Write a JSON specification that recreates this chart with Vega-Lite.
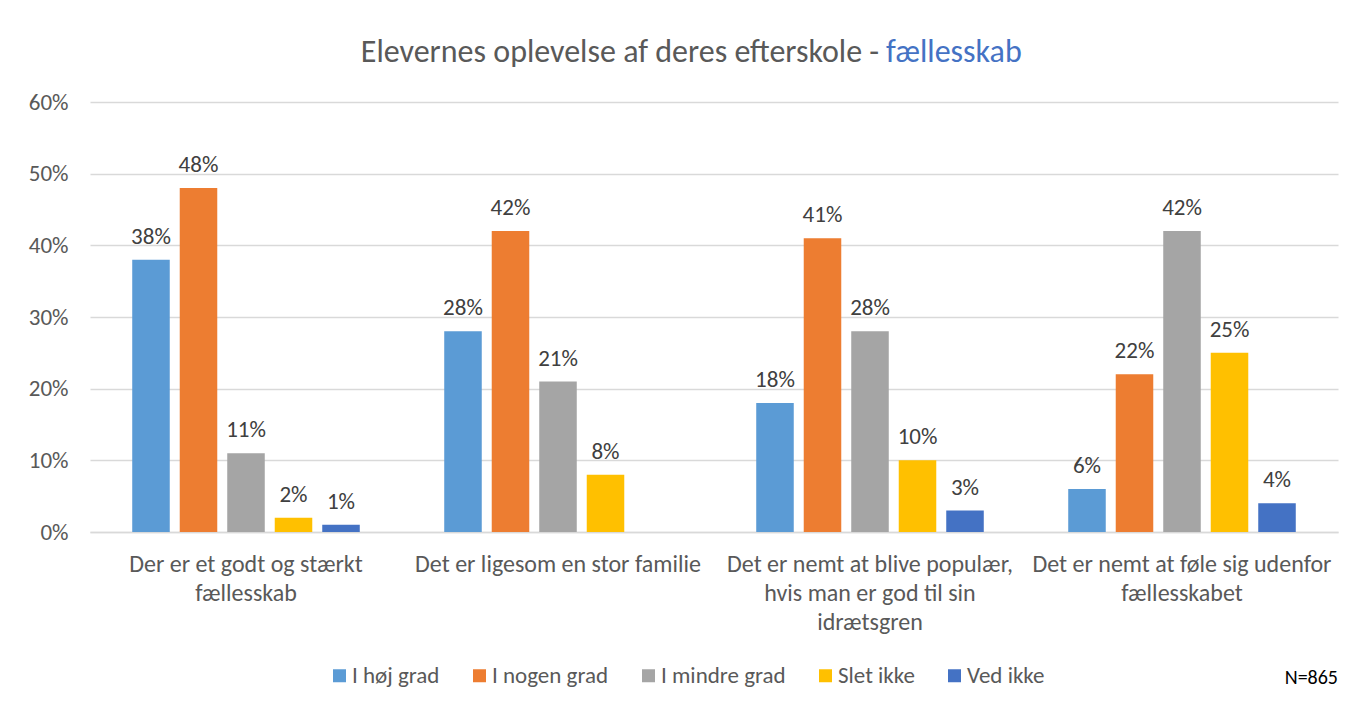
{
  "$schema": "https://vega.github.io/schema/vega-lite/v6.json",
  "width": 1248,
  "height": 430,
  "autosize": {"type": "none"},
  "padding": {"left": 90, "top": 102, "right": 18, "bottom": 174},
  "background": "white",
  "title": {"text": "N=865", "orient": "bottom", "anchor": "end", "offset": -20, "fontSize": 20, "font": "Carlito, Liberation Sans Narrow, sans-serif", "fontWeight": "normal", "color": "#000000"},
  "data": {"values": [
    {"cat": "Der er et godt og stærkt fællesskab", "series": "I høj grad", "value": 0.38},
    {"cat": "Der er et godt og stærkt fællesskab", "series": "I nogen grad", "value": 0.48},
    {"cat": "Der er et godt og stærkt fællesskab", "series": "I mindre grad", "value": 0.11},
    {"cat": "Der er et godt og stærkt fællesskab", "series": "Slet ikke", "value": 0.02},
    {"cat": "Der er et godt og stærkt fællesskab", "series": "Ved ikke", "value": 0.01},
    {"cat": "Det er ligesom en stor familie", "series": "I høj grad", "value": 0.28},
    {"cat": "Det er ligesom en stor familie", "series": "I nogen grad", "value": 0.42},
    {"cat": "Det er ligesom en stor familie", "series": "I mindre grad", "value": 0.21},
    {"cat": "Det er ligesom en stor familie", "series": "Slet ikke", "value": 0.08},
    {"cat": "Det er nemt at blive populær, hvis man er god til sin idrætsgren", "series": "I høj grad", "value": 0.18},
    {"cat": "Det er nemt at blive populær, hvis man er god til sin idrætsgren", "series": "I nogen grad", "value": 0.41},
    {"cat": "Det er nemt at blive populær, hvis man er god til sin idrætsgren", "series": "I mindre grad", "value": 0.28},
    {"cat": "Det er nemt at blive populær, hvis man er god til sin idrætsgren", "series": "Slet ikke", "value": 0.10},
    {"cat": "Det er nemt at blive populær, hvis man er god til sin idrætsgren", "series": "Ved ikke", "value": 0.03},
    {"cat": "Det er nemt at føle sig udenfor fællesskabet", "series": "I høj grad", "value": 0.06},
    {"cat": "Det er nemt at føle sig udenfor fællesskabet", "series": "I nogen grad", "value": 0.22},
    {"cat": "Det er nemt at føle sig udenfor fællesskabet", "series": "I mindre grad", "value": 0.42},
    {"cat": "Det er nemt at føle sig udenfor fællesskabet", "series": "Slet ikke", "value": 0.25},
    {"cat": "Det er nemt at føle sig udenfor fællesskabet", "series": "Ved ikke", "value": 0.04}
  ]},
  "encoding": {
    "x": {
      "field": "cat", "type": "nominal", "sort": null, "title": null,
      "scale": {"paddingInner": 0, "paddingOuter": 0},
      "axis": {
        "labelAngle": 0, "labelPadding": 20, "labelLineHeight": 29, "labelLimit": 400, "labelFontSize": 24,
        "domain": true, "domainColor": "#D9D9D9", "domainWidth": 1.5, "grid": false, "ticks": false,
        "labelBaseline": "top",
        "labelExpr": "datum.value == 'Der er et godt og stærkt fællesskab' ? ['Der er et godt og stærkt', 'fællesskab'] : datum.value == 'Det er nemt at blive populær, hvis man er god til sin idrætsgren' ? ['Det er nemt at blive populær,', 'hvis man er god til sin', 'idrætsgren'] : datum.value == 'Det er nemt at føle sig udenfor fællesskabet' ? ['Det er nemt at føle sig udenfor', 'fællesskabet'] : datum.value"
      }
    },
    "y": {
      "field": "value", "type": "quantitative", "title": null,
      "scale": {"domain": [0, 0.6], "nice": false},
      "axis": {"values": [0, 0.1, 0.2, 0.3, 0.4, 0.5, 0.6], "format": ".0%", "grid": true, "domain": false, "ticks": false, "labelPadding": 22, "labelFontSize": 23, "gridColor": "#D9D9D9", "gridWidth": 1.5}
    }
  },
  "layer": [
    {
      "mark": {"type": "bar"},
      "encoding": {
        "xOffset": {
          "field": "series", "type": "nominal",
          "scale": {"domain": ["I høj grad", "I nogen grad", "I mindre grad", "Slet ikke", "Ved ikke"], "paddingInner": 0.21, "paddingOuter": 0.889}
        },
        "color": {
          "field": "series", "type": "nominal",
          "scale": {"domain": ["I høj grad", "I nogen grad", "I mindre grad", "Slet ikke", "Ved ikke"], "range": ["#5B9BD5", "#ED7D31", "#A5A5A5", "#FFC000", "#4472C4"]},
          "legend": {"orient": "none", "legendX": 238, "legendY": 562, "direction": "horizontal", "title": null, "symbolType": "square", "symbolSize": 169, "symbolStrokeWidth": 0, "labelFontSize": 23, "labelColor": "#595959", "columnPadding": 28, "labelOffset": 1}
        }
      }
    },
    {
      "mark": {"type": "text", "baseline": "alphabetic", "dy": -16, "fontSize": 23, "color": "#404040"},
      "encoding": {
        "xOffset": {"field": "series", "type": "nominal"},
        "text": {"field": "value", "format": ".0%"}
      }
    },
    {
      "transform": [{"filter": "datum.cat == 'Det er nemt at blive populær, hvis man er god til sin idrætsgren' && datum.series == 'I høj grad'"}],
      "mark": {"type": "text", "align": "right", "baseline": "alphabetic", "dx": -4, "fontSize": 32, "color": "#595959"},
      "encoding": {
        "x": {"field": "cat", "type": "nominal", "bandPosition": 0.542},
        "y": {"datum": 0.6558, "type": "quantitative"},
        "text": {"value": "Elevernes oplevelse af deres efterskole -"}
      }
    },
    {
      "transform": [{"filter": "datum.cat == 'Det er nemt at blive populær, hvis man er god til sin idrætsgren' && datum.series == 'I høj grad'"}],
      "mark": {"type": "text", "align": "left", "baseline": "alphabetic", "dx": 3, "fontSize": 32, "color": "#4472C4"},
      "encoding": {
        "x": {"field": "cat", "type": "nominal", "bandPosition": 0.542},
        "y": {"datum": 0.6558, "type": "quantitative"},
        "text": {"value": "fællesskab"}
      }
    }
  ],
  "config": {
    "font": "Carlito, Liberation Sans Narrow, sans-serif",
    "view": {"stroke": null},
    "axis": {"labelFont": "Carlito, Liberation Sans Narrow, sans-serif", "labelFontSize": 22, "labelColor": "#595959"},
    "legend": {"labelFont": "Carlito, Liberation Sans Narrow, sans-serif"},
    "text": {"font": "Carlito, Liberation Sans Narrow, sans-serif"}
  }
}
